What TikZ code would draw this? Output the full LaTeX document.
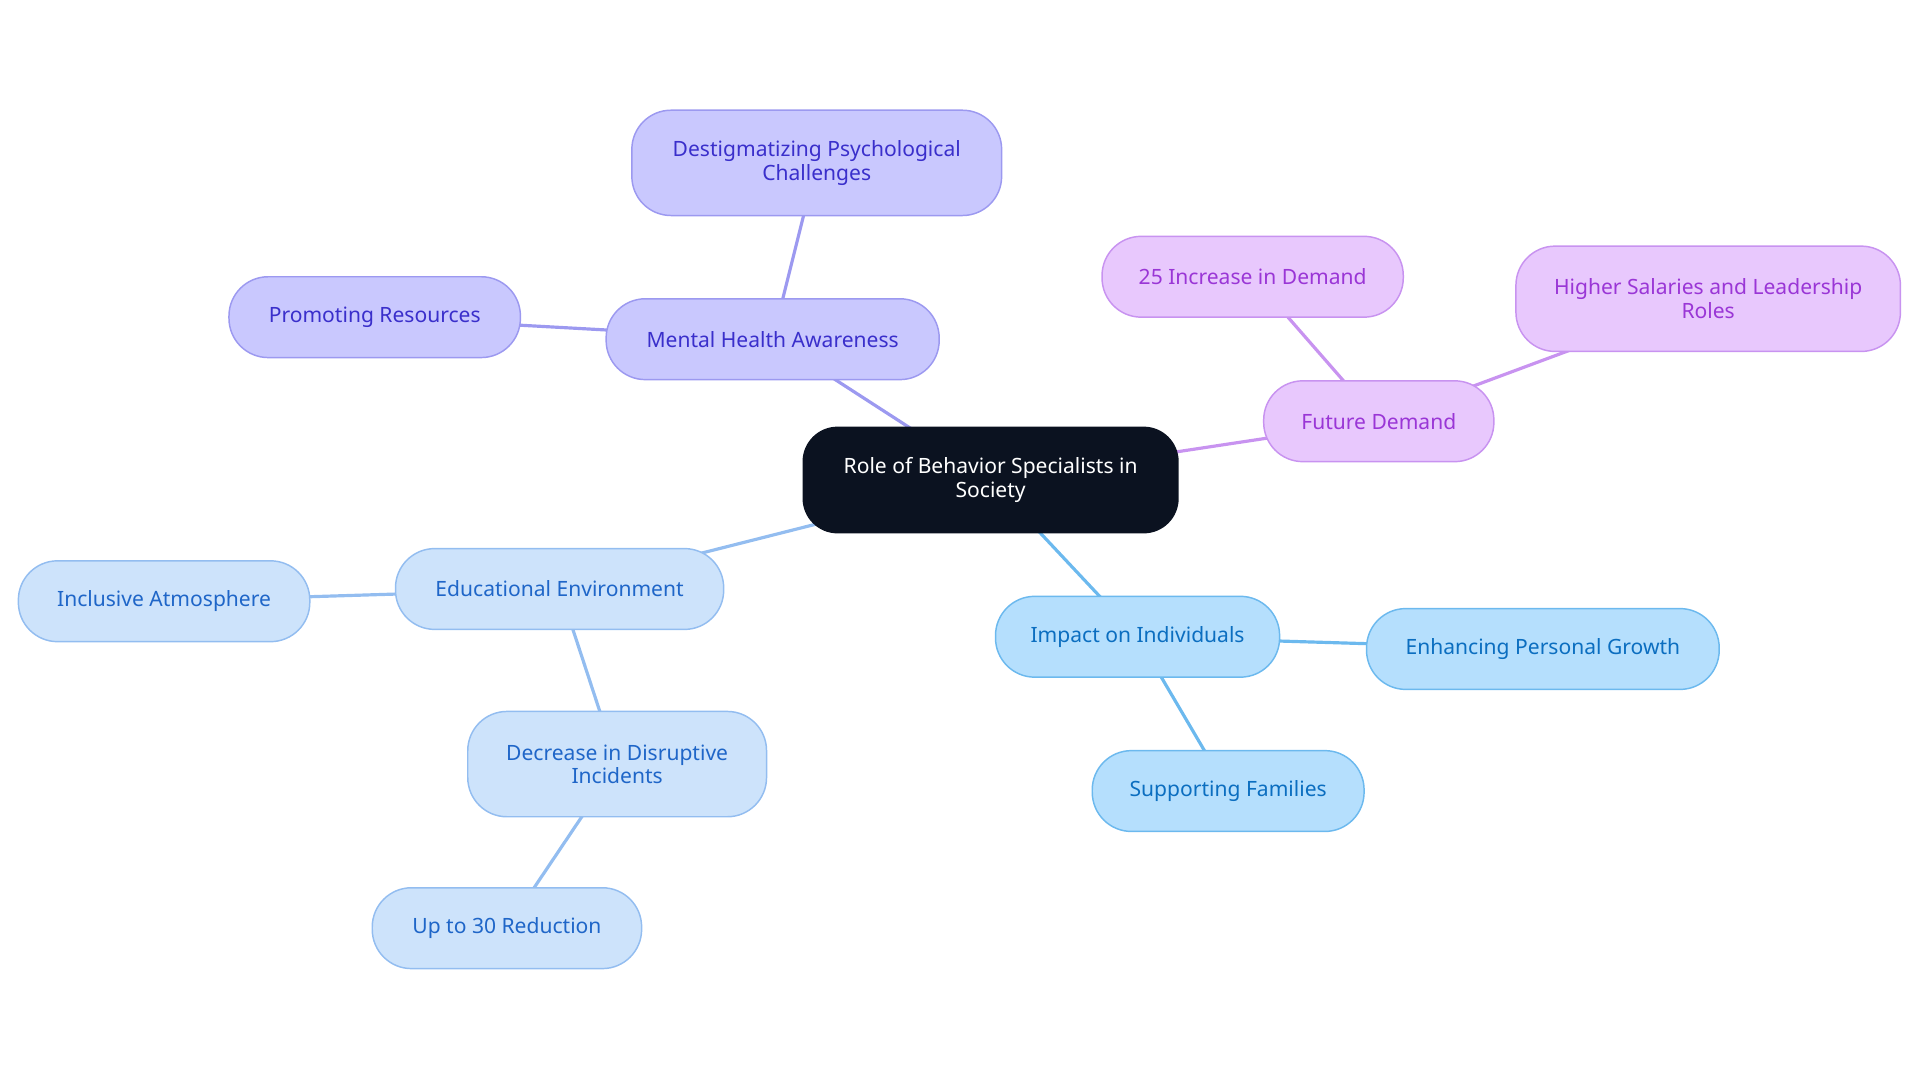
\documentclass[tikz,border=0pt]{standalone}
\usepackage{fontspec}
\setmainfont{Noto Sans}
\usetikzlibrary{backgrounds}
\definecolor{bF}{HTML}{C9C8FE}\definecolor{bD}{HTML}{9C99F0}\definecolor{bT}{HTML}{3A2FCB}
\definecolor{vF}{HTML}{E8C8FD}\definecolor{vD}{HTML}{C893F0}\definecolor{vT}{HTML}{9A36D6}
\definecolor{lF}{HTML}{CDE3FB}\definecolor{lD}{HTML}{93BDF0}\definecolor{lT}{HTML}{1F66C8}
\definecolor{sF}{HTML}{B5DFFD}\definecolor{sD}{HTML}{6CB9EE}\definecolor{sT}{HTML}{0B6EC0}
\definecolor{rootF}{HTML}{0B1220}
\tikzset{
 nd/.style={draw, line width=0.6pt, rounded corners=16pt, align=center, inner sep=0pt,
   font=\fontsize{8.6}{9.6}\selectfont},
 bn/.style={nd, fill=bF, draw=bD, text=bT},
 vn/.style={nd, fill=vF, draw=vD, text=vT},
 ln/.style={nd, fill=lF, draw=lD, text=lT},
 sn/.style={nd, fill=sF, draw=sD, text=sT},
 ed/.style={line width=1.3pt},
}
\begin{document}
\begin{tikzpicture}[x=0.5pt,y=-0.5pt]
\useasboundingbox (0,0) rectangle (1568,885);
\node[nd, fill=rootF, draw=rootF, text=white, minimum width=153pt, minimum height=43pt, rounded corners=14pt] (root) at (809,392) {Role of Behavior Specialists in\\Society};
\node[bn, minimum width=136pt, minimum height=33pt] (mha) at (631,277) {Mental Health Awareness};
\node[bn, minimum width=151pt, minimum height=43pt] (des) at (667,133) {Destigmatizing Psychological\\Challenges};
\node[bn, minimum width=119pt, minimum height=33pt] (pro) at (306,259) {Promoting Resources};
\node[vn, minimum width=94pt, minimum height=33pt] (fut) at (1126,344) {Future Demand};
\node[vn, minimum width=123pt, minimum height=33pt] (inc) at (1023,226) {25 Increase in Demand};
\node[vn, minimum width=157pt, minimum height=43pt] (hig) at (1395,244) {Higher Salaries and Leadership\\Roles};
\node[ln, minimum width=134pt, minimum height=33pt] (edu) at (457,481) {Educational Environment};
\node[ln, minimum width=119pt, minimum height=33pt] (inl) at (134,491) {Inclusive Atmosphere};
\node[ln, minimum width=122pt, minimum height=43pt] (dec) at (504,624) {Decrease in Disruptive\\Incidents};
\node[ln, minimum width=110pt, minimum height=33pt] (up) at (414,758) {Up to 30 Reduction};
\node[sn, minimum width=116pt, minimum height=33pt] (imp) at (929,520) {Impact on Individuals};
\node[sn, minimum width=144pt, minimum height=33pt] (enh) at (1260,530) {Enhancing Personal Growth};
\node[sn, minimum width=111pt, minimum height=33pt] (sup) at (1003,646) {Supporting Families};
\begin{scope}[on background layer]
\draw[ed, bD] (root.center) -- (mha.center);
\draw[ed, bD] (mha.center) -- (des.center);
\draw[ed, bD] (mha.center) -- (pro.center);
\draw[ed, vD] (root.center) -- (fut.center);
\draw[ed, vD] (fut.center) -- (inc.center);
\draw[ed, vD] (fut.center) -- (hig.center);
\draw[ed, lD] (root.center) -- (edu.center);
\draw[ed, lD] (edu.center) -- (inl.center);
\draw[ed, lD] (edu.center) -- (dec.center);
\draw[ed, lD] (dec.center) -- (up.center);
\draw[ed, sD] (root.center) -- (imp.center);
\draw[ed, sD] (imp.center) -- (enh.center);
\draw[ed, sD] (imp.center) -- (sup.center);
\end{scope}
\end{tikzpicture}
\end{document}
